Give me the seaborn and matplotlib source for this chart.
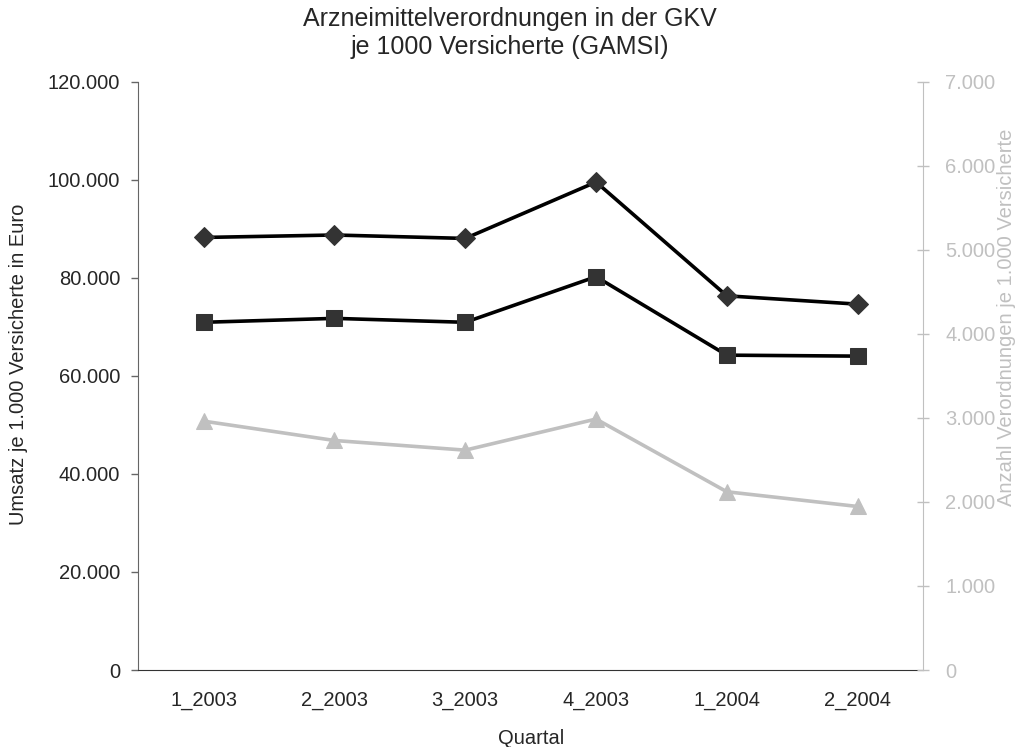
import numpy as np
import pandas as pd
import seaborn as sns
import matplotlib.pyplot as plt
from matplotlib.ticker import FuncFormatter, FixedLocator

quartale = ['1_2003', '2_2003', '3_2003', '4_2003', '1_2004', '2_2004']
umsatz_diamond = [88200, 88700, 88000, 99500, 76300, 74600]
umsatz_square = [70900, 71700, 70900, 80200, 64200, 64000]
anzahl_vo = [2960, 2730, 2615, 2985, 2120, 1945]

sns.set_style('white')
plt.rcParams['font.family'] = ['Liberation Sans', 'DejaVu Sans']

df = pd.DataFrame({'pos': np.arange(len(quartale)), 'Quartal': quartale,
                   'dia': umsatz_diamond, 'sq': umsatz_square, 'anz': anzahl_vo})

fig = plt.figure(figsize=(10.2, 7.47), dpi=100)
ax = fig.add_axes([138.3 / 1020, 1 - 670 / 747, (923 - 138.3) / 1020, (670 - 81.5) / 747])
ax2 = ax.twinx()

sns.lineplot(data=df, x='pos', y='dia', ax=ax, color='black', linewidth=2.6,
             marker='D', markersize=10, markerfacecolor='#333333', markeredgecolor='#333333', zorder=3)
sns.lineplot(data=df, x='pos', y='sq', ax=ax, color='black', linewidth=2.6,
             marker='s', markersize=11, markerfacecolor='#333333', markeredgecolor='#333333', zorder=3)
sns.lineplot(data=df, x='pos', y='anz', ax=ax2, color='#c0c0c0', linewidth=2.6,
             marker='^', markersize=12, markerfacecolor='#c0c0c0', markeredgecolor='#c0c0c0')

fmt = FuncFormatter(lambda v, p: f'{int(v):,}'.replace(',', '.'))
fs = 14.5

ax.set_xlim(-0.5, len(quartale) - 0.5)
ax.set_ylim(0, 120000)
ax.set_yticks(np.arange(0, 120001, 20000))
ax.yaxis.set_major_formatter(fmt)
ax.set_xticks(df['pos'])
ax.set_xticklabels(quartale)
ax.xaxis.set_minor_locator(FixedLocator(np.arange(-0.5, len(quartale), 1.0)))
ax.tick_params(axis='x', which='major', length=0, pad=15, labelsize=fs)
ax.tick_params(axis='x', which='minor', length=6, width=1, color='#333333', direction='out')
ax.tick_params(axis='y', length=5, width=1, color='#666666', direction='out', labelsize=fs, pad=8)
ax.set_xlabel('Quartal', fontsize=fs, labelpad=14)
ax.set_ylabel('Umsatz je 1.000 Versicherte in Euro', fontsize=fs)
ax.yaxis.set_label_coords(-0.14, 0.52)

ax2.set_ylim(0, 7000)
ax2.set_yticks(np.arange(0, 7001, 1000))
ax2.yaxis.set_major_formatter(fmt)
ax2.tick_params(axis='y', length=8, width=1, color='#c0c0c0', direction='inout',
                labelsize=fs, labelcolor='#c0c0c0', pad=12)
ax2.set_ylabel('Anzahl Verordnungen je 1.000 Versicherte', fontsize=fs, color='#c0c0c0')
ax2.yaxis.set_label_coords(1.094, 0.60)

for a in (ax, ax2):
    a.spines['top'].set_visible(False)
ax.spines['left'].set_color('#666666')
ax.spines['bottom'].set_color('#333333')
ax.spines['right'].set_visible(False)
ax2.spines['left'].set_visible(False)
ax2.spines['bottom'].set_visible(False)
ax2.spines['right'].set_color('#c0c0c0')

fig.suptitle('Arzneimittelverordnungen in der GKV\nje 1000 Versicherte (GAMSI)',
             fontsize=18, y=0.99, linespacing=1.2)

fig.savefig('out.png', dpi=100)
